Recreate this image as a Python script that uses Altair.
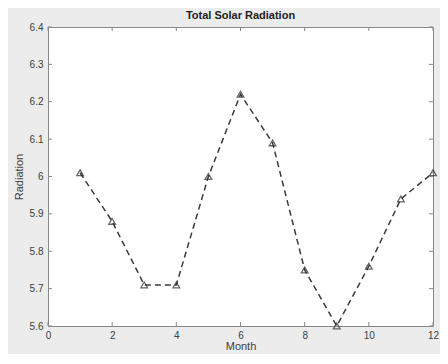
import altair as alt
import pandas as pd

months = [1, 2, 3, 4, 5, 6, 7, 8, 9, 10, 11, 12]
radiation = [6.01, 5.88, 5.71, 5.71, 6.00, 6.22, 6.09, 5.75, 5.60, 5.76, 5.94, 6.01]
x_ticks = [0, 2, 4, 6, 8, 10, 12]
y_ticks = [5.6, 5.7, 5.8, 5.9, 6.0, 6.1, 6.2, 6.3, 6.4]

W, H = 385, 299
FONT = "Liberation Sans"
TXT = "#404040"

df = pd.DataFrame({"Month": months, "Radiation": radiation})
xt = pd.DataFrame({"v": x_ticks})
yt = pd.DataFrame({"v": y_ticks})

xs = alt.Scale(domain=[0, 12], nice=False, zero=False)
ys = alt.Scale(domain=[5.6, 6.4], nice=False, zero=False)

xaxis = alt.Axis(values=x_ticks, grid=False, domain=False, ticks=False,
                 labelPadding=4, labelFontSize=10, labelColor=TXT, labelFont=FONT,
                 title="Month", titleFontSize=11, titleFontWeight="normal",
                 titleColor=TXT, titleFont=FONT, titlePadding=0, labelFlush=False,
                 labelOverlap=False)
yaxis = alt.Axis(values=y_ticks, grid=False, domain=False, ticks=False,
                 labelPadding=5, labelFontSize=10, labelColor=TXT, labelFont=FONT,
                 title="Radiation", titleFontSize=11, titleFontWeight="normal",
                 titleColor=TXT, titleFont=FONT, titlePadding=5, format="~g",
                 labelFlush=False, labelOverlap=False)

line = alt.Chart(df).mark_line(color="#3a3a3a", strokeWidth=1.5, strokeDash=[6, 4]).encode(
    x=alt.X("Month:Q", scale=xs, axis=xaxis),
    y=alt.Y("Radiation:Q", scale=ys, axis=yaxis),
)
pts = alt.Chart(df).mark_point(shape="triangle-up", filled=False, size=45,
                               color="#2a2a2a", strokeWidth=1.3).encode(
    x=alt.X("Month:Q", scale=xs, axis=xaxis),
    y=alt.Y("Radiation:Q", scale=ys, axis=yaxis),
)

TC = "#888888"
tb = alt.Chart(xt).mark_rule(color=TC, strokeWidth=1).encode(
    x=alt.X("v:Q", scale=xs, axis=xaxis), y=alt.value(H), y2=alt.value(H - 4))
tt = alt.Chart(xt).mark_rule(color=TC, strokeWidth=1).encode(
    x=alt.X("v:Q", scale=xs, axis=xaxis), y=alt.value(0), y2=alt.value(4))
tl = alt.Chart(yt).mark_rule(color=TC, strokeWidth=1).encode(
    y=alt.Y("v:Q", scale=ys, axis=yaxis), x=alt.value(0), x2=alt.value(4))
tr = alt.Chart(yt).mark_rule(color=TC, strokeWidth=1).encode(
    y=alt.Y("v:Q", scale=ys, axis=yaxis), x=alt.value(W - 4), x2=alt.value(W))

chart = alt.layer(line, pts, tb, tt, tl, tr).properties(
    width=W, height=H,
    title=alt.TitleParams("Total Solar Radiation", fontSize=11, fontWeight="bold",
                          font=FONT, color="#222222", offset=1, anchor="middle",
                          frame="group"),
    background="#ececec",
    padding={"left": 40, "top": 19, "right": 7, "bottom": 28},
    autosize=alt.AutoSizeParams(type="none"),
).configure_view(fill="white", stroke="#888888", strokeWidth=1)

chart.save("out.html", embed_options={"renderer": "svg", "actions": False})
